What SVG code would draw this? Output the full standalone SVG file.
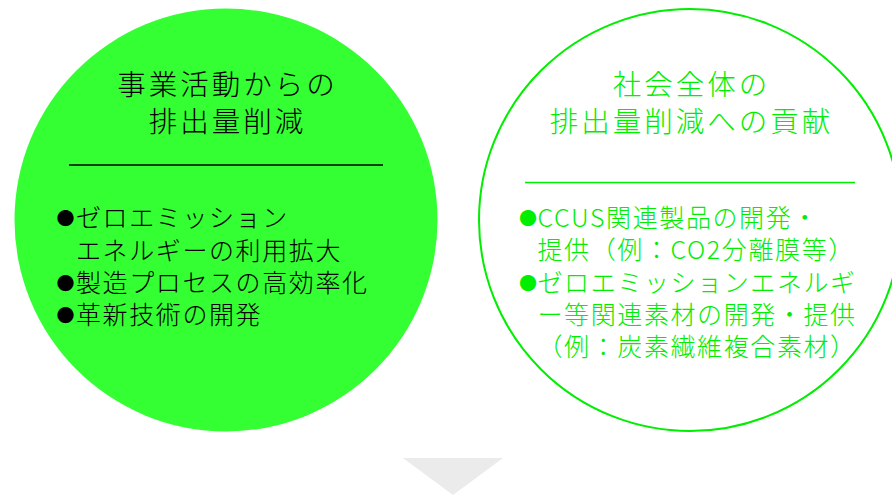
<svg xmlns="http://www.w3.org/2000/svg" width="892" height="495" viewBox="0 0 892 495">
<style>
  text { font-family: "Noto Sans CJK JP", "Noto Sans", sans-serif; font-weight: 300; }
  .title { font-size: 28.5px; letter-spacing: 3px; text-anchor: middle; }
  .item { font-size: 25px; letter-spacing: 1.6px; }
  .dot { font-size: 18px; letter-spacing: 0; }
  .dark { fill: #000000; }
  .lite { fill: #00ee00; }
</style>
<rect width="892" height="495" fill="#ffffff"/>
<g id="connectors">
  <polygon points="403,458 503,458 453,495" fill="#ebebeb"/>
</g>
<g id="node-left">
  <circle cx="226" cy="220" r="211.5" fill="#33ff33"/>
  <text class="title dark" x="227.5" y="95">事業活動からの</text>
  <text class="title dark" x="227.5" y="132">排出量削減</text>
  <line x1="69" y1="165" x2="383" y2="165" stroke="#000000" stroke-width="1.3"/>
  <text class="item dark" y="227"><tspan class="dot" x="56.5" y="225">●</tspan><tspan x="76" y="227">ゼロエミッション</tspan></text>
  <text class="item dark" x="76" y="259.5">エネルギーの利用拡大</text>
  <text class="item dark" y="291.5"><tspan class="dot" x="56.5" y="289.5">●</tspan><tspan x="76" y="291.5">製造プロセスの高効率化</tspan></text>
  <text class="item dark" y="323.5"><tspan class="dot" x="56.5" y="321.5">●</tspan><tspan x="76" y="323.5">革新技術の開発</tspan></text>
</g>
<g id="node-right">
  <circle cx="690" cy="220" r="211" fill="none" stroke="#00ee00" stroke-width="2"/>
  <text class="title lite" x="691.5" y="95">社会全体の</text>
  <text class="title lite" x="691.5" y="132">排出量削減への貢献</text>
  <line x1="525" y1="182.5" x2="855" y2="182.5" stroke="#00ee00" stroke-width="1.3"/>
  <text class="item lite" y="227"><tspan class="dot" x="519" y="225">●</tspan><tspan x="537.5" y="227">CCUS関連製品の開発・</tspan></text>
  <text class="item lite" x="537.5" y="259.3">提供（例：CO2分離膜等）</text>
  <text class="item lite" y="291.6"><tspan class="dot" x="519" y="289.6">●</tspan><tspan x="537.5" y="291.6">ゼロエミッションエネルギ</tspan></text>
  <text class="item lite" x="537.5" y="323.9">ー等関連素材の開発・提供</text>
  <text class="item lite" x="537.5" y="356.2">（例：炭素繊維複合素材）</text>
</g>
</svg>
